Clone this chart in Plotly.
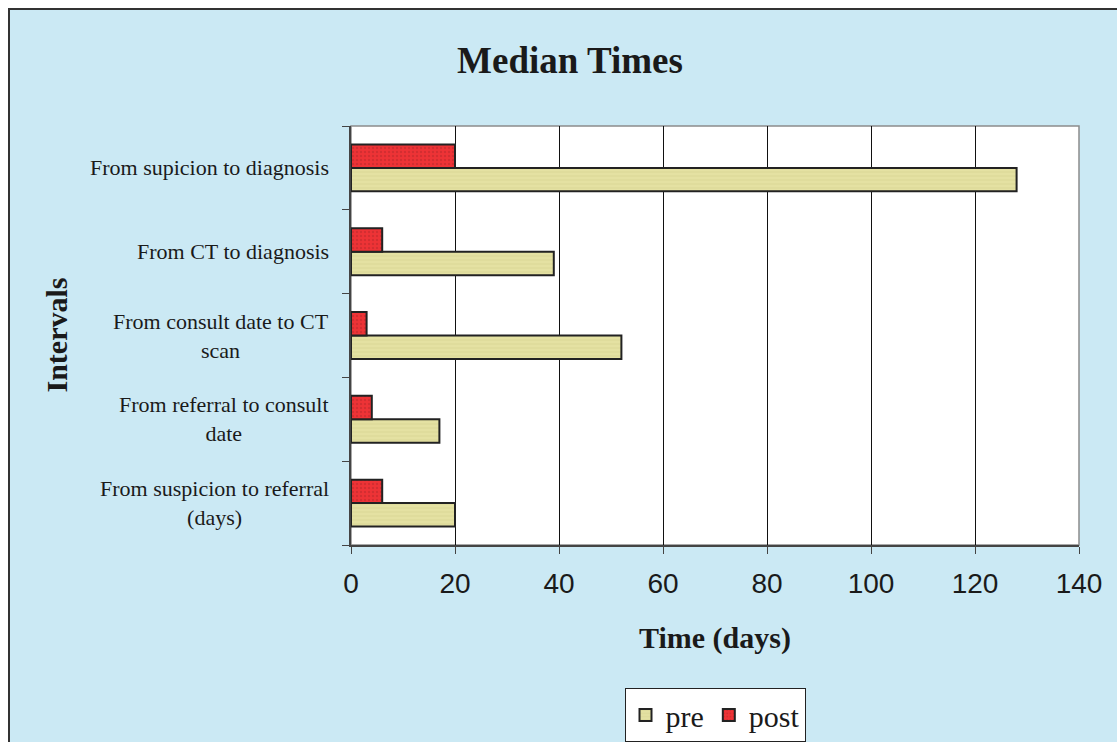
import plotly.graph_objects as go

# Intervals listed bottom-to-top as they appear on the category axis
intervals = [
    "From suspicion to referral (days)",
    "From referral to consult date",
    "From consult date to CT scan",
    "From CT to diagnosis",
    "From supicion to diagnosis",
]
interval_labels = [
    "From suspicion to referral<br>(days)",
    "From referral to consult<br>date",
    "From consult date to CT<br>scan",
    "From CT to diagnosis",
    "From supicion to diagnosis",
]
pre_days = [20, 17, 52, 39, 128]
post_days = [6, 4, 3, 6, 20]
x_ticks = [0, 20, 40, 60, 80, 100, 120, 140]

SERIF = "Liberation Serif, Times New Roman, serif"
SANS = "Liberation Sans, Arial, sans-serif"
BG = "#CBE9F4"
INK = "#1A1A1A"

W, H = 1117, 742
L, R, T, B = 351, 1079, 126, 545
pw, ph = R - L, B - T

fig = go.Figure()
fig.add_trace(go.Bar(
    name="pre", y=intervals, x=pre_days, orientation="h",
    marker=dict(color="#E4E1A2", line=dict(color="#222222", width=2),
                pattern=dict(shape="-", fgcolor="#CFCB8C", size=4, solidity=0.25)),
))
fig.add_trace(go.Bar(
    name="post", y=intervals, x=post_days, orientation="h",
    marker=dict(color="#EE3336", line=dict(color="#222222", width=2),
                pattern=dict(shape=".", fgcolor="#B8282B", size=4, solidity=0.3)),
))

def px_x(px):
    return (px - L) / pw

def px_y(py):
    return (B - py) / ph

shapes = [
    # framed light-blue chart area
    dict(type="rect", xref="paper", yref="paper", layer="below",
         x0=px_x(9), x1=px_x(W + 10), y0=px_y(H + 10), y1=px_y(9),
         fillcolor=BG, line=dict(color="#333333", width=2)),
    # white plot area with grey border
    dict(type="rect", xref="paper", yref="paper", layer="below",
         x0=0, x1=1, y0=0, y1=1, fillcolor="white",
         line=dict(color="#8C8C8C", width=1.5)),
]

# category labels, wrapped lines centred on each other
annotations = [
    dict(x=px_x(331), xref="paper", y=cat, yref="y", xanchor="right",
         yanchor="middle", align="center", showarrow=False, text=lbl,
         font=dict(family=SERIF, size=22, color=INK))
    for cat, lbl in zip(intervals, interval_labels)
]

annotations.append(dict(
    x=0.5, xref="paper", y=px_y(638), yref="paper", xanchor="center",
    yanchor="middle", showarrow=False,
    text="<b>Time (days)</b>", font=dict(family=SERIF, size=30, color=INK)))
annotations.append(dict(
    x=px_x(56), xref="paper", y=0.5, yref="paper", xanchor="center",
    yanchor="middle", showarrow=False, textangle=-90,
    text="<b>Intervals</b>", font=dict(family=SERIF, size=30, color=INK)))

fig.update_layout(
    width=W, height=H,
    margin=dict(l=L, r=W - R, t=T, b=H - B, autoexpand=False),
    paper_bgcolor="white", plot_bgcolor="rgba(0,0,0,0)",
    barmode="group", bargap=0.44, bargroupgap=0,
    title=dict(text="<b>Median Times</b>", x=570 / W, xanchor="center",
               y=1 - 60 / H, yanchor="middle",
               font=dict(family=SERIF, size=37, color=INK)),
    xaxis=dict(range=[0, 140], tickvals=x_ticks, showgrid=True, gridcolor="#111111",
               gridwidth=1, zeroline=False, showline=True, linecolor="#444444",
               linewidth=1.5, ticks="outside", ticklen=7, tickcolor="#444444",
               ticklabelstandoff=6, automargin=False,
               tickfont=dict(family=SANS, size=28, color=INK)),
    yaxis=dict(showticklabels=False, showgrid=False, zeroline=False, automargin=False,
               showline=True, linecolor="#444444", linewidth=2,
               ticks="outside", tickson="boundaries", ticklen=7, tickcolor="#444444"),
    legend=dict(orientation="h", x=0.5, xanchor="center", y=px_y(688), yanchor="top",
                bgcolor="white", bordercolor="#222222", borderwidth=1,
                font=dict(family=SERIF, size=30, color=INK),
                itemsizing="constant", traceorder="normal"),
    shapes=shapes, annotations=annotations,
)

fig.write_html("out.html")
